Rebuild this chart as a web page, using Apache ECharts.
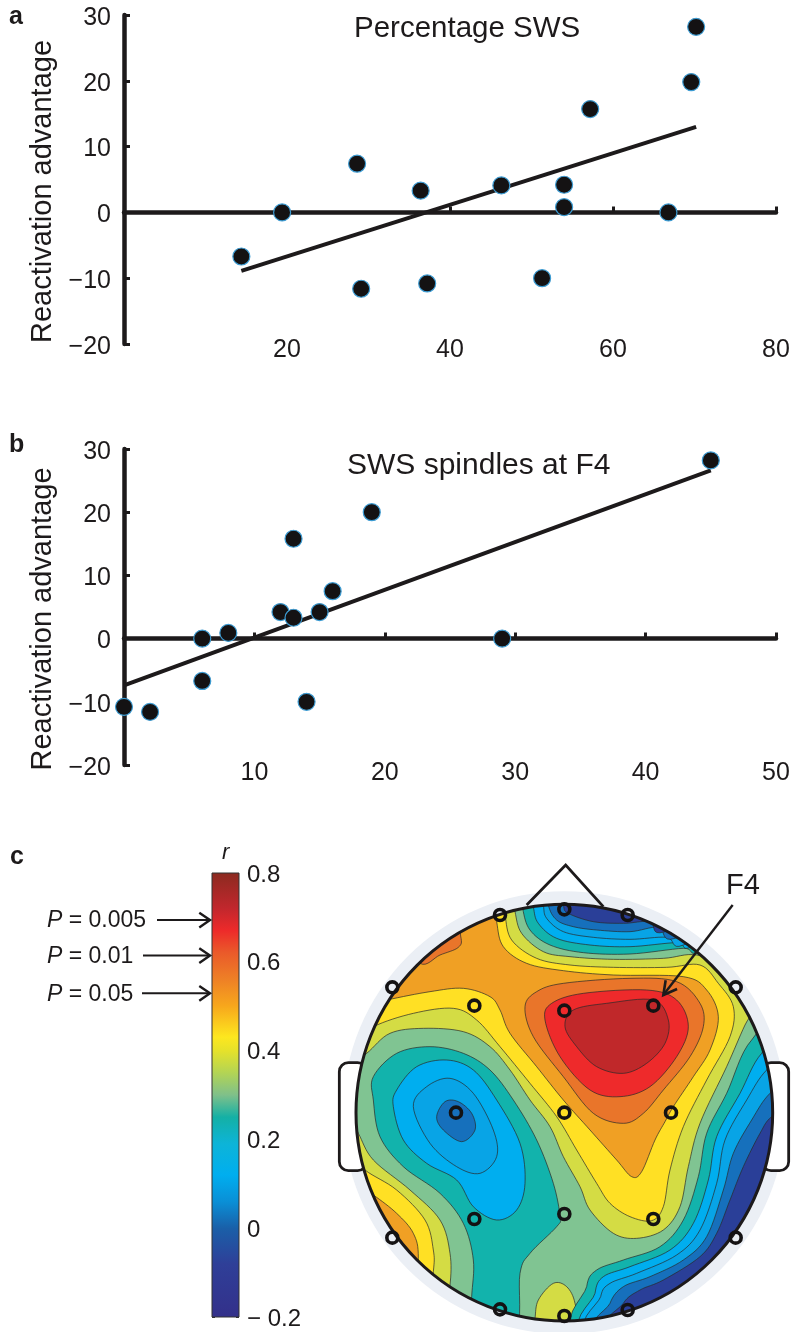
<!DOCTYPE html>
<html><head><meta charset="utf-8">
<style>html,body{margin:0;padding:0;background:#fff}#c{width:793px;height:1332px}</style>
<script src="https://cdn.jsdelivr.net/npm/echarts@6/dist/echarts.min.js"></script>
</head><body><div id="c"></div>
<script>
// ---------- panel a ----------
const swsPercent = [14.4,19.4,28.6,29.1,36.4,37.2,46.3,51.3,54,54,57.2,66.8,69.6,70.2];
const swsAdvantage = [-6.7,0,7.4,-11.6,3.3,-10.8,4.1,-10,4.2,0.8,15.7,0,19.8,28.2];
const swsFitX = [14.4,70.2];
const swsFitY = [-8.9,13];
// ---------- panel b ----------
const spindleCount = [0,2,6,6,8,12,13,13,14,15,16,19,29,45];
const spindleAdvantage = [-10.8,-11.6,0,-6.7,0.9,4.2,3.3,15.8,-10,4.2,7.5,20,0,28.2];
const spindleFitX = [0,45];
const spindleFitY = [-7.4,26.6];
const yTicks = [-20,-10,0,10,20,30];
// ---------- panel c colour bar ----------
const barValues = [-0.2,-0.08,0,0.06,0.12,0.19,0.25,0.3,0.35,0.4,0.43,0.5,0.56,0.62,0.67,0.72,0.8];
const barColors = ['#33308a','#2f3f98','#1a5fa8','#0a8fd6','#00aeef','#0db4d8','#14b0a5','#7fc08a','#b3d454','#e6e22a','#fde71f','#f7a71c','#ee8026','#ea5a2a','#ed2a2a','#c1272d','#8b2a20'];
const pLabels = ['0.005','0.01','0.05'];
const pValues = [0.694,0.614,0.529];
// ---------- panel c scalp map: contour outlines, drawn lowest painter order first ----------
const cYellowGreenMain = [[40,660],[110,610],[180,550],[280,535],[400,545],[480,590],[540,660],[600,750],[660,830],[700,920],[750,1010],[780,1080],[850,1150],[920,1165],[1000,1140],[1050,1070],[1075,950],[1110,820],[1190,650],[1245,525],[1290,440],[1220,360],[1100,315],[1000,325],[850,328],[720,320],[640,305],[575,250],[555,185],[545,120],[300,40],[40,300]];
const cYellowMain = [[40,590],[130,530],[250,490],[370,475],[440,510],[510,590],[600,700],[680,800],[740,900],[800,1000],[840,1060],[900,1100],[965,1112],[1000,1070],[1020,960],[1060,830],[1130,690],[1200,560],[1210,470],[1165,400],[1110,345],[1010,352],[850,352],[720,345],[620,325],[545,270],[525,195],[515,120],[300,40],[40,300]];
const cOrangeMain = [[40,480],[170,450],[300,425],[400,415],[480,440],[510,480],[540,550],[620,650],[700,750],[780,840],[860,930],[905,980],[935,965],[975,870],[1005,815],[1030,770],[1090,680],[1140,600],[1165,500],[1130,420],[1060,380],[850,375],[700,362],[590,340],[520,290],[500,215],[490,120],[300,40],[40,300]];
const cOrangeCornerUL = [[270,340],[330,315],[385,292],[392,258],[360,160],[200,240]];
const cOrangeDark = [[585,470],[620,425],[700,400],[900,385],[1040,395],[1110,460],[1120,530],[1080,620],[1000,720],[940,790],[880,820],[790,790],[700,680],[610,560]];
const cRed = [[645,510],[665,460],[760,430],[950,420],[1040,450],[1075,530],[1040,620],[960,710],[870,740],[780,720],[690,620]];
const cDarkRed = [[705,530],[730,480],[830,460],[970,450],[1015,510],[1005,580],[950,640],[880,670],[800,650],[740,590]];
const cLobeYellowGreen = [[50,790],[85,850],[130,930],[240,1020],[330,1110],[360,1210],[360,1305],[340,1400],[60,1400]];
const cLobeYellow = [[50,900],[105,960],[200,1020],[285,1110],[310,1200],[310,1265],[290,1400],[60,1400]];
const cLobeOrange = [[60,990],[130,1035],[200,1090],[250,1150],[265,1225],[250,1400],[60,1400]];
const cBottomBlob = [[610,1450],[615,1405],[625,1350],[670,1300],[710,1310],[735,1360],[738,1450]];
const cTopTeal = [[570,90],[578,175],[600,240],[660,285],[760,308],[900,312],[1060,295],[1105,305],[1250,200],[800,40]];
const cTopLight = [[600,90],[610,170],[625,220],[680,265],[780,285],[900,290],[1040,278],[1085,290],[1250,180],[800,40]];
const cTopMid = [[630,90],[640,165],[650,205],[700,245],[790,262],[900,268],[1010,262],[1060,285],[1250,160],[800,40]];
const cTopBlue = [[650,90],[655,165],[680,210],[730,230],[800,240],[900,245],[985,232],[1035,265],[1250,140],[800,40]];
const cTopNavy = [[690,90],[700,165],[715,190],[790,215],[880,220],[960,215],[1005,245],[1250,120],[800,40]];
const cLeftTeal = [[130,750],[130,680],[200,610],[300,590],[400,610],[480,660],[550,750],[620,870],[670,1000],[690,1100],[680,1130],[600,1210],[570,1270],[555,1450],[420,1450],[425,1340],[430,1230],[400,1120],[330,1030],[220,950],[150,860]];
const cLeftLight = [[190,770],[200,720],[260,650],[350,630],[430,660],[500,750],[570,880],[585,1000],[560,1080],[500,1110],[430,1070],[380,990],[290,940],[220,870]];
const cLeftLightInner = [[250,770],[290,710],[360,685],[430,730],[490,840],[500,920],[450,970],[380,950],[300,880]];
const cLeftBlue = [[320,800],[345,755],[385,755],[425,790],[435,840],[395,875],[340,840]];
const cRightTeal = [[1400,500],[1265,570],[1190,730],[1130,850],[1105,980],[1060,1110],[990,1190],[880,1230],[800,1260],[770,1310],[768,1450],[1400,1450]];
const cRightLight = [[1400,540],[1295,610],[1230,730],[1160,860],[1135,990],[1090,1120],[1020,1200],[900,1250],[820,1280],[795,1330],[790,1450],[1400,1450]];
const cRightMid = [[1400,600],[1310,660],[1250,750],[1185,870],[1160,1000],[1110,1140],[1040,1215],[920,1270],[840,1300],[812,1340],[805,1450],[1400,1450]];
const cRightBlue = [[1400,680],[1320,730],[1265,810],[1210,910],[1180,1020],[1130,1160],[1060,1230],[960,1280],[880,1310],[840,1360],[825,1450],[1400,1450]];
const cRightNavy = [[1400,760],[1325,800],[1290,850],[1240,950],[1200,1050],[1160,1150],[1110,1220],[1000,1290],[930,1320],[880,1360],[850,1450],[1400,1450]];
const electrodes = [[510,195],[703,178],[893,195],[187,412],[1217,412],[433,467],[703,482],[970,467],[378,788],[703,788],[1023,788],[433,1107],[703,1092],[970,1107],[187,1163],[1217,1163],[510,1378],[703,1398],[893,1380]];

const GREEN='#80c492',YG='#d4dc44',YEL='#ffe024',ORA='#f0a024',DOR='#e9752a',RED='#ee2a2b',DRED='#c0282a',TEAL='#12b3ac',LIGHT='#00aeef',MID='#08a4e6',BLUE='#1670bc',NAVY='#2a3f98';
const bands = [
 [cYellowGreenMain,YG],[cYellowMain,YEL],[cOrangeMain,ORA],[cOrangeCornerUL,DOR],[cOrangeDark,DOR],[cRed,RED],[cDarkRed,DRED],
 [cLobeYellowGreen,YG],[cLobeYellow,YEL],[cLobeOrange,ORA],[cLeftTeal,TEAL],[cLeftLight,LIGHT],[cLeftLightInner,MID],[cLeftBlue,BLUE],
 [cBottomBlob,YG],
 [cTopTeal,TEAL],[cTopLight,LIGHT],[cTopMid,MID],[cTopBlue,BLUE],[cTopNavy,NAVY],
 [cRightTeal,TEAL],[cRightLight,LIGHT],[cRightMid,MID],[cRightBlue,BLUE],[cRightNavy,NAVY]
];
const HEAD={cx:703,cy:788,r:625};
const INK='#1d1a1b', FONT='"Liberation Sans",Arial,sans-serif';

const zip=(a,b)=>a.map((v,i)=>[v,b[i]]);
// closed Catmull-Rom outline of a contour, only for the rounded drawing of the path
function roundOutline(pts){
  const n=pts.length,out=[],steps=8;
  for(let i=0;i<n;i++){
    const p0=pts[(i-1+n)%n],p1=pts[i],p2=pts[(i+1)%n],p3=pts[(i+2)%n];
    for(let s=0;s<steps;s++){
      const t=s/steps,t2=t*t,t3=t2*t;
      out.push([0,1].map(k=>0.5*(2*p1[k]+(p2[k]-p0[k])*t+(2*p0[k]-5*p1[k]+4*p2[k]-p3[k])*t2+(3*p1[k]-p0[k]-3*p2[k]+p3[k])*t3)));
    }
  }
  return out;
}
const yAxisOf=(gridIndex)=>({gridIndex,type:'value',min:-20,max:30,interval:10,
  name:'Reactivation advantage',nameLocation:'middle',nameGap:57,nameRotate:90,
  nameTextStyle:{fontFamily:FONT,fontSize:29,color:INK,padding:[0,24,0,0]},
  axisLine:{show:true,onZero:false,lineStyle:{color:INK,width:4.5}},
  axisTick:{show:true,inside:true,length:6,lineStyle:{color:INK,width:3}},
  axisLabel:{fontFamily:FONT,fontSize:25,color:INK,margin:13,verticalAlign:'top',lineHeight:6,formatter:v=>yTicks.includes(v)?(v<0?'\u2212'+(-v):''+v):''},
  splitLine:{show:false}});
const xLine=(gridIndex,max,interval)=>({gridIndex,type:'value',min:0,max,interval,position:'bottom',
  axisLine:{show:true,onZero:true,lineStyle:{color:INK,width:4.5}},
  axisTick:{show:true,inside:true,length:6,lineStyle:{color:INK,width:3}},
  axisLabel:{show:false},splitLine:{show:false}});
const xLabels=(gridIndex,max,interval,margin)=>({gridIndex,type:'value',min:0,max,interval,position:'bottom',
  axisLine:{show:false,onZero:false},axisTick:{show:false},splitLine:{show:false},
  axisLabel:{fontFamily:FONT,fontSize:25,color:INK,margin,formatter:v=>v===0?'':''+v}});
const scatter=(xi,yi,data)=>({type:'scatter',xAxisIndex:xi,yAxisIndex:yi,data,symbolSize:17,z:5,
  itemStyle:{color:'#141213',borderColor:'#3c9bd2',borderWidth:1.2,opacity:1}});
const fit=(xi,yi,data)=>({type:'line',xAxisIndex:xi,yAxisIndex:yi,data,showSymbol:false,z:4,
  lineStyle:{color:INK,width:4}});

const chart=echarts.init(document.getElementById('c'),null,{renderer:'canvas'});
function arrowHead(x,y,ang,len,spread,lw){
  const a1=ang+Math.PI-spread,a2=ang+Math.PI+spread;
  return {type:'polyline',shape:{points:[[x+len*Math.cos(a1),y+len*Math.sin(a1)],[x,y],[x+len*Math.cos(a2),y+len*Math.sin(a2)]]},
    style:{stroke:INK,lineWidth:lw,fill:null}};
}
chart.setOption({
  animation:false,backgroundColor:'#fff',
  title:[
    {text:'a',left:4,top:0,textStyle:{fontFamily:FONT,fontSize:25,fontWeight:'bold',color:INK}},
    {text:'b',left:4,top:428,textStyle:{fontFamily:FONT,fontSize:25,fontWeight:'bold',color:INK}},
    {text:'c',left:5,top:840,textStyle:{fontFamily:FONT,fontSize:25,fontWeight:'bold',color:INK}},
    {text:'Percentage SWS',left:349,top:9,textStyle:{fontFamily:FONT,fontSize:29.5,fontWeight:'normal',color:INK}},
    {text:'SWS spindles at F4',left:342,top:446,textStyle:{fontFamily:FONT,fontSize:30,fontWeight:'normal',color:INK}},
    {text:'r',left:217,top:837,textStyle:{fontFamily:FONT,fontSize:22,fontStyle:'italic',fontWeight:'normal',color:INK}},
    {text:'F4',left:721,top:866,textStyle:{fontFamily:FONT,fontSize:29,fontWeight:'normal',color:INK}}
  ],
  grid:[
    {left:124,top:15,width:652,height:329},
    {left:124,top:449,width:652,height:316},
    {left:212,top:873,width:27,height:444},
    {left:330,top:850,width:463,height:482}
  ],
  xAxis:[
    xLine(0,80,20),xLabels(0,80,20,-6),
    xLine(1,50,10),xLabels(1,50,10,-4),
    {gridIndex:2,type:'value',min:0,max:1,show:false},
    {gridIndex:3,type:'value',min:0,max:1389,show:false}
  ],
  yAxis:[
    yAxisOf(0),yAxisOf(1),
    {gridIndex:2,type:'value',min:-0.2,max:0.8,interval:0.2,position:'left',
      axisLine:{show:false},axisTick:{show:true,inside:true,length:3,lineStyle:{color:'#333',width:1}},axisLabel:{show:false},splitLine:{show:false}},
    {gridIndex:2,type:'value',min:-0.2,max:0.8,interval:0.2,position:'right',
      axisLine:{show:false},axisTick:{show:true,inside:true,length:3,lineStyle:{color:'#333',width:1}},splitLine:{show:false},
      axisLabel:{fontFamily:FONT,fontSize:24,color:INK,margin:8,verticalAlign:'top',lineHeight:4,formatter:v=>v<0?'\u2212 0.2':(v===0?'0':v.toFixed(1))}},
    {gridIndex:3,type:'value',min:0,max:1446,inverse:true,show:false}
  ],
  series:[
    fit(0,0,zip(swsFitX,swsFitY)),
    scatter(0,0,zip(swsPercent,swsAdvantage)),
    fit(2,1,zip(spindleFitX,spindleFitY)),
    scatter(2,1,zip(spindleCount,spindleAdvantage)),
    // colour bar
    {type:'custom',xAxisIndex:4,yAxisIndex:2,data:[[0,0.8,1,-0.2]],z:2,clip:false,
      renderItem:(p,api)=>{
        const a=api.coord([0,0.8]),b=api.coord([1,-0.2]);
        return {type:'rect',shape:{x:a[0],y:a[1],width:b[0]-a[0],height:b[1]-a[1]},
          style:{stroke:'#333',lineWidth:1,fill:new echarts.graphic.LinearGradient(0,0,0,1,
            barValues.map((v,i)=>({offset:0.8-v,color:barColors[i]})).reverse())}};
      }},
    // P-value arrows on the colour bar
    {type:'custom',xAxisIndex:4,yAxisIndex:2,data:pValues.map((v,i)=>[0,v,i]),z:3,clip:false,
      renderItem:(p,api)=>{
        const y=api.coord([0,api.value(1)])[1],i=api.value(2);
        const x0=[157,143,142][i],x1=210;
        return {type:'group',children:[
          {type:'text',style:{x:47,y:y+1,text:'{i|P} = '+pLabels[i],verticalAlign:'middle',align:'left',
            fontFamily:'Liberation Sans',fontSize:23,fill:INK,
            rich:{i:{fontStyle:'italic',fontSize:23,fontFamily:'Liberation Sans',fill:INK}}}},
          {type:'line',shape:{x1:x0,y1:y,x2:x1,y2:y},style:{stroke:INK,lineWidth:2}},
          arrowHead(x1,y,0,13,0.6,2.4)
        ]};
      }},
    // scalp: halo, ears, nose
    {type:'custom',xAxisIndex:5,yAxisIndex:4,data:[[HEAD.cx,HEAD.cy]],z:2,clip:false,
      renderItem:(p,api)=>{
        const c=api.coord([HEAD.cx,HEAD.cy]);
        const ear=(x0,x1)=>{const a=api.coord([x0,638]),b=api.coord([x1,962]);
          return {type:'rect',shape:{x:a[0],y:a[1],width:b[0]-a[0],height:b[1]-a[1],r:9},style:{fill:'#fff',stroke:INK,lineWidth:2.8}};};
        return {type:'group',children:[
          {type:'circle',shape:{cx:c[0],cy:c[1],r:HEAD.r/3+13},style:{fill:'#ebeff5'}},
          ear(28,110),ear(1296,1376),
          {type:'polyline',shape:{points:[[590,165],[707,45],[820,170]].map(q=>api.coord(q))},style:{stroke:INK,lineWidth:2.8,fill:null}}
        ]};
      }},
    // filled circular base (green level)
    {type:'custom',xAxisIndex:5,yAxisIndex:4,data:[[HEAD.cx,HEAD.cy]],z:3,clip:false,
      renderItem:(p,api)=>{
        const c=api.coord([HEAD.cx,HEAD.cy]);
        return {type:'circle',shape:{cx:c[0],cy:c[1],r:HEAD.r/3},style:{fill:GREEN}};
      }},
    // contour bands
    {type:'custom',xAxisIndex:5,yAxisIndex:4,data:bands.map((b,i)=>[i]),z:4,clip:false,
      renderItem:(p,api)=>{
        const b=bands[api.value(0)];
        const c=api.coord([HEAD.cx,HEAD.cy]);
        return {type:'polygon',shape:{points:roundOutline(b[0]).map(q=>api.coord(q))},
          clipPath:{type:'circle',shape:{cx:c[0],cy:c[1],r:HEAD.r/3}},
          style:{fill:b[1],stroke:'#2a2a2a',lineWidth:0.7}};
      }},
    // head outline
    {type:'custom',xAxisIndex:5,yAxisIndex:4,data:[[HEAD.cx,HEAD.cy]],z:6,clip:false,
      renderItem:(p,api)=>{
        const c=api.coord([HEAD.cx,HEAD.cy]);
        return {type:'circle',shape:{cx:c[0],cy:c[1],r:HEAD.r/3},style:{fill:null,stroke:INK,lineWidth:3}};
      }},
    // electrodes
    {type:'scatter',xAxisIndex:5,yAxisIndex:4,data:electrodes,symbolSize:11,z:7,clip:false,
      itemStyle:{color:'rgba(255,255,255,0)',borderColor:'#141213',borderWidth:3.6,opacity:1}},
    // F4 pointer
    {type:'custom',xAxisIndex:5,yAxisIndex:4,data:[[1208,165,1000,435]],z:8,clip:false,
      renderItem:(p,api)=>{
        const a=api.coord([api.value(0),api.value(1)]),b=api.coord([api.value(2),api.value(3)]);
        return {type:'group',children:[
          {type:'line',shape:{x1:a[0],y1:a[1],x2:b[0],y2:b[1]},style:{stroke:INK,lineWidth:2.4}},
          arrowHead(b[0],b[1],Math.atan2(b[1]-a[1],b[0]-a[0]),15,0.5,2.6)
        ]};
      }}
  ]
});
</script></body></html>
